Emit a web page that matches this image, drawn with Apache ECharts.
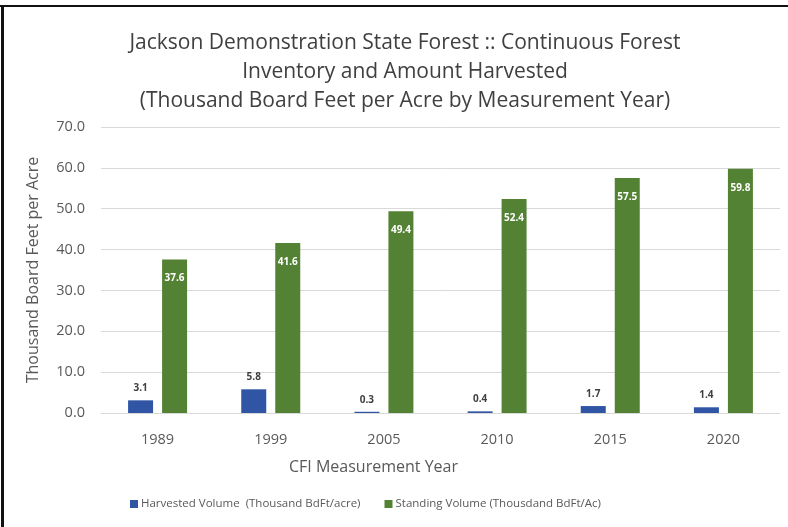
<!DOCTYPE html>
<html><head><meta charset="utf-8">
<script src="https://cdn.jsdelivr.net/npm/echarts@6/dist/echarts.min.js"></script>
<style>html,body{margin:0;padding:0;background:#fff}#c{width:788px;height:527px}</style>
</head><body><div id="c"></div>
<script>
const categories = ['1989','1999','2005','2010','2015','2020'];
const harvested = [3.1, 5.8, 0.3, 0.4, 1.7, 1.4];
const standing = [37.6, 41.6, 49.4, 52.4, 57.5, 59.8];
const harvestedName = 'Harvested Volume  (Thousand BdFt/acre)';
const standingName = 'Standing Volume (Thousdand BdFt/Ac)';
const titleText = 'Jackson Demonstration State Forest :: Continuous Forest\nInventory and Amount Harvested\n(Thousand Board Feet per Acre by Measurement Year)';

const font = '"Open Sans", sans-serif';
const chart = echarts.init(document.getElementById('c'));
chart.setOption({
  animation: false,
  textStyle: {fontFamily: font},
  title: {
    text: titleText, left: 400, textAlign: 'center', top: 24,
    textStyle: {fontFamily: font, fontSize: 21, fontWeight: 'normal', color: '#404040', lineHeight: 29}
  },
  graphic: [
    {type: 'rect', shape: {x: 0, y: 5, width: 788, height: 2}, style: {fill: '#111'}},
    {type: 'rect', shape: {x: 1, y: 5, width: 3, height: 527}, style: {fill: '#111'}}
  ],
  legend: {
    bottom: 12, left: 125, itemWidth: 8, itemHeight: 8, itemGap: 24, icon: 'rect',
    textStyle: {fontFamily: font, fontSize: 11.5, color: '#595959', padding: [0, 0, 0, -2]},
    data: [harvestedName, standingName]
  },
  grid: {left: 101, right: 8, top: 127, bottom: 114},
  xAxis: {
    type: 'category', data: categories,
    name: 'CFI Measurement Year', nameLocation: 'middle', nameGap: 46,
    nameTextStyle: {fontSize: 16, color: '#595959', padding: [0, 134, 0, 0]},
    axisLine: {lineStyle: {color: '#d9d9d9'}}, axisTick: {show: false},
    axisLabel: {fontSize: 14.5, color: '#595959', margin: 19}
  },
  yAxis: {
    type: 'value', min: 0, max: 70, interval: 10,
    name: 'Thousand Board Feet per Acre', nameLocation: 'middle', nameGap: 60,
    nameTextStyle: {fontSize: 16, color: '#595959'},
    axisLabel: {fontSize: 14.5, color: '#595959', formatter: v => v.toFixed(1), margin: 16},
    splitLine: {lineStyle: {color: '#d9d9d9', width: 1}},
    axisLine: {show: false}, axisTick: {show: false}
  },
  series: [
    {name: harvestedName, type: 'bar', data: harvested, barWidth: 25, barGap: '36%',
     itemStyle: {color: '#2F55A4'},
     label: {show: true, position: 'top', distance: 7, formatter: p => p.value.toFixed(1),
             fontSize: 10, fontWeight: 'bold', color: '#404040'}},
    {name: standingName, type: 'bar', data: standing, barWidth: 25,
     itemStyle: {color: '#548235'},
     label: {show: true, position: 'insideTop', distance: 14, formatter: p => p.value.toFixed(1),
             fontSize: 10, fontWeight: 'bold', color: '#ffffff'}}
  ]
});
</script></body></html>
